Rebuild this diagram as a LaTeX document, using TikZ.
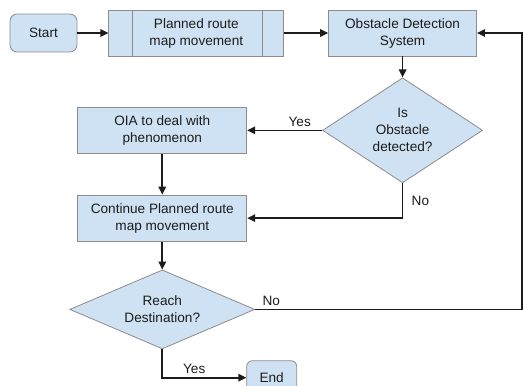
\documentclass[tikz,border=0pt]{standalone}
\usepackage{fontspec}
\setmainfont{Liberation Sans}
\usetikzlibrary{arrows.meta,positioning,shapes.geometric}
\definecolor{ink}{HTML}{1C1C1C}
\definecolor{edgegray}{HTML}{8C8C8C}
\definecolor{paleblue}{HTML}{CFE2F3}

\begin{document}
\begin{tikzpicture}[every node/.style={font=\fontsize{13.6}{17}\selectfont,text=ink}, term/.style={draw=edgegray,fill=paleblue,line width=.8pt,rounded corners=2.5mm,minimum width=67pt,minimum height=38pt,align=center}, proc/.style={draw=edgegray,fill=paleblue,line width=.8pt,minimum height=46pt,inner sep=0pt,align=center}, decide/.style={diamond,draw=edgegray,fill=paleblue,line width=.8pt,inner sep=0pt,align=center}, flow/.style={-{Triangle[length=2.8mm,width=2.6mm]},line width=1.6pt,draw=ink}]
\useasboundingbox (-43.5pt,33pt) rectangle (479.5pt,-353pt);
\node[term] (start) {Start};
\node[proc,minimum width=175pt,right=31pt of start] (route) {Planned route\\map movement};
\draw[draw=edgegray,line width=.8pt] ([xshift=24pt]route.north west) -- ([xshift=24pt]route.south west) ([xshift=-22pt]route.north east) -- ([xshift=-22pt]route.south east);
\node[proc,minimum width=148pt,right=44pt of route] (ods) {Obstacle Detection\\System};
\node[decide,minimum width=160pt,minimum height=105pt,aspect=1.5,below=21pt of ods] (det) {Is\\Obstacle\\detected?};
\node[proc,minimum width=169pt,left=75pt of det] (oia) {OIA to deal with\\phenomenon};
\node[proc,minimum width=169pt,below=41pt of oia] (cont) {Continue Planned route\\map movement};
\node[decide,minimum width=185pt,minimum height=79pt,aspect=2,below=28pt of cont] (reach) {Reach\\Destination?};
\node[term,minimum width=50pt,minimum height=34pt,rounded corners=2mm,below right=11pt and 84pt of reach.south] (end) {End};
\coordinate[right=45pt of ods.east] (turn);
\foreach \x/\y in {start/route,route/ods,ods/det,oia/cont,cont/reach}{\draw[flow] (\x)--(\y);}
\draw[flow] (det) -- node[above,pos=.3]{Yes} (oia);
\draw[flow] (det.south) |- node[right,pos=.25,xshift=5pt]{No} (cont.east);
\draw[flow] (reach.east) -| node[above,pos=.03]{No} (turn) -- (ods.east);
\draw[flow] (reach.south) |- node[above,pos=.69]{Yes} (end.west);
\end{tikzpicture}
\end{document}
